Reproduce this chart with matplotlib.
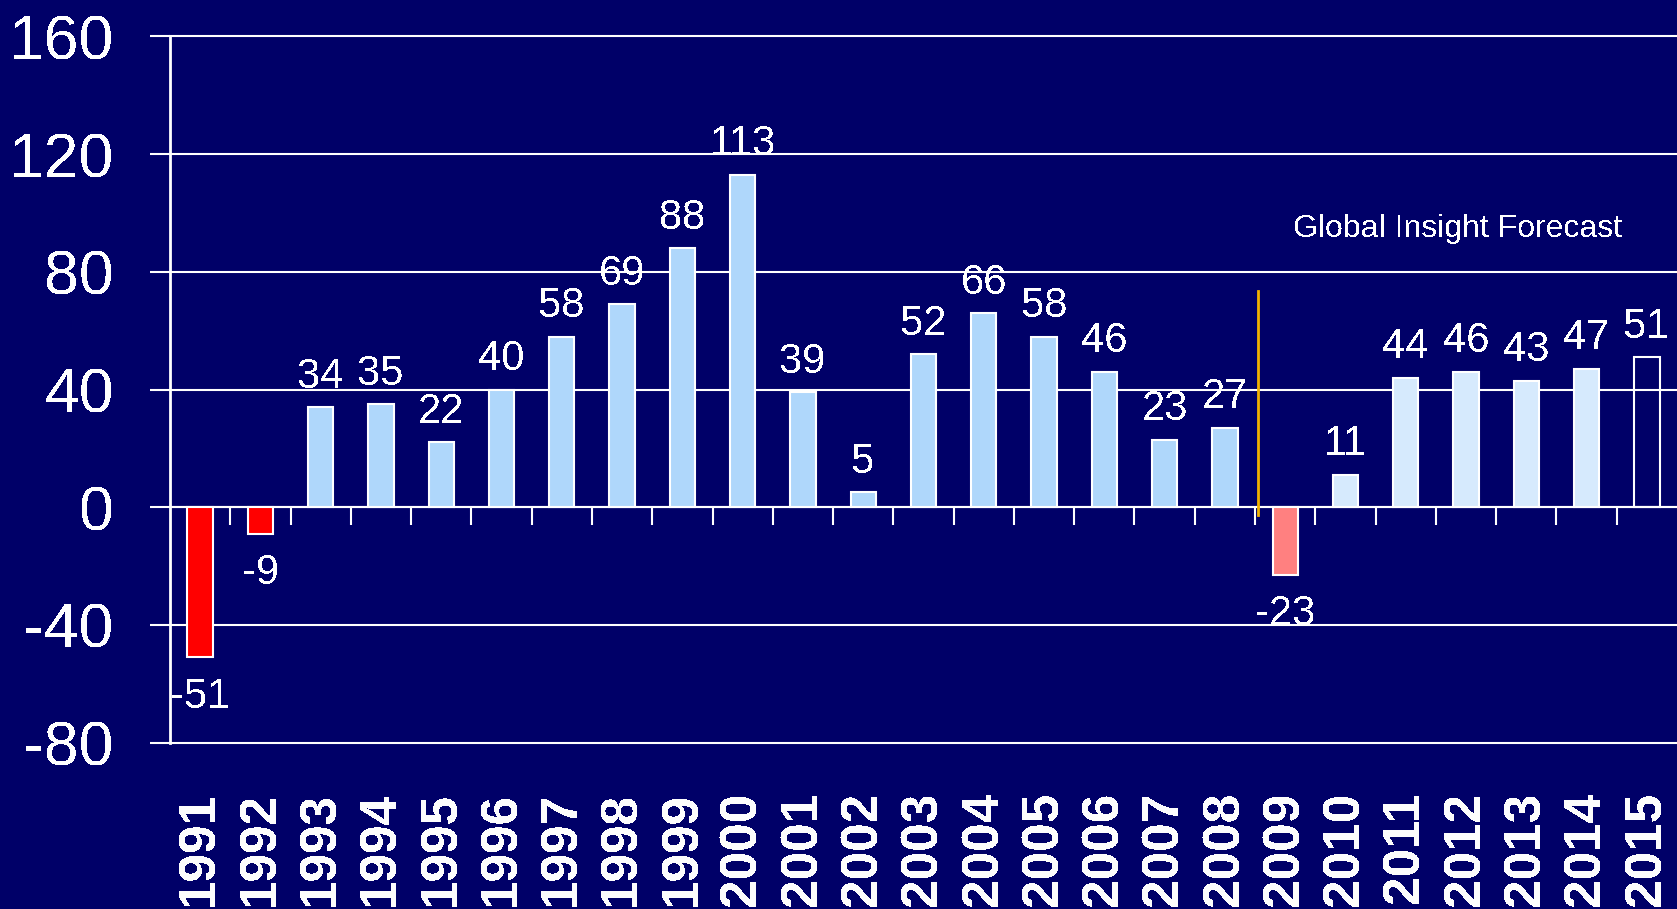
import matplotlib
matplotlib.use("Agg")
import matplotlib.pyplot as plt
import matplotlib.transforms as mtransforms

years = [str(y) for y in range(1991, 2016)]
values = [-51, -9, 34, 35, 22, 40, 58, 69, 88, 113, 39, 5, 52, 66, 58, 46, 23, 27,
          -23, 11, 44, 46, 43, 47, 51]
forecast_from = "2009"
yticks = [-80, -40, 0, 40, 80, 120, 160]
note = "Global Insight Forecast"

bg = "#000068"
plt.rcParams['font.family'] = ['Liberation Sans', 'DejaVu Sans']
plt.rcParams['text.antialiased'] = False

fig = plt.figure(figsize=(16.77, 9.09), dpi=100, facecolor=bg)
ax = fig.add_axes([170 / 1677, 1 - 742.6 / 909, 1 - 170 / 1677, (742.6 - 36.4) / 909])
ax.set_facecolor(bg)

x = list(range(len(years)))
first_fc = years.index(forecast_from)
colors = []
for i, v in enumerate(values):
    if i == len(values) - 1:
        colors.append("none")
    elif i < first_fc:
        colors.append("#FF0000" if v < 0 else "#AFD7FB")
    else:
        colors.append("#FF8080" if v < 0 else "#D6EAFD")

bars = ax.bar(x, values, width=0.42, color=colors, edgecolor="white",
              linewidth=1.5, zorder=3)

for xi, v in zip(x, values):
    if v >= 0:
        ax.annotate(str(v), (xi, v), xytext=(0, 14), textcoords="offset points",
                    ha="center", va="baseline", color="white", fontsize=30)
    else:
        ax.annotate(str(v), (xi, v), xytext=(0, -14), textcoords="offset points",
                    ha="center", va="top", color="white", fontsize=30)

# forecast divider
ax.plot([first_fc - 0.45, first_fc - 0.45], [-2.7, 73.5], color="#F2B200",
        lw=2, zorder=4)
ax.text(20.86, 94.5, note, color="white", fontsize=23, ha="center", va="center")

ax.set_xlim(-0.5, len(years) - 0.5)
ax.set_ylim(-80, 160)
ax.set_yticks(yticks)
ax.set_yticklabels([str(t) for t in yticks])
ax.tick_params(axis="y", colors="white", labelsize=45, length=14.4, width=1.5,
               pad=26, direction="out")
ax.yaxis.grid(True, color="white", linewidth=1.5, zorder=1)
ax.set_axisbelow(True)
for gl in ax.get_ygridlines():
    gl.set_clip_on(False)

ax.spines["top"].set_visible(False)
ax.spines["right"].set_visible(False)
ax.spines["left"].set_color("white")
ax.spines["left"].set_linewidth(2)
ax.spines["bottom"].set_position(("data", 0))
ax.spines["bottom"].set_color("white")
ax.spines["bottom"].set_linewidth(1.5)

ax.set_xticks([i + 0.5 for i in range(len(years) - 1)])
ax.set_xticklabels([])
ax.tick_params(axis="x", colors="white", length=13, width=1.5, direction="out")

trans = mtransforms.blended_transform_factory(ax.transData, ax.transAxes)
for xi, yr in zip(x, years):
    ax.text(xi, -0.07, yr, transform=trans, rotation=90, ha="center", va="top",
            color="white", fontsize=37, fontweight="bold")

fig.savefig("out.png", dpi=100, facecolor=bg)
